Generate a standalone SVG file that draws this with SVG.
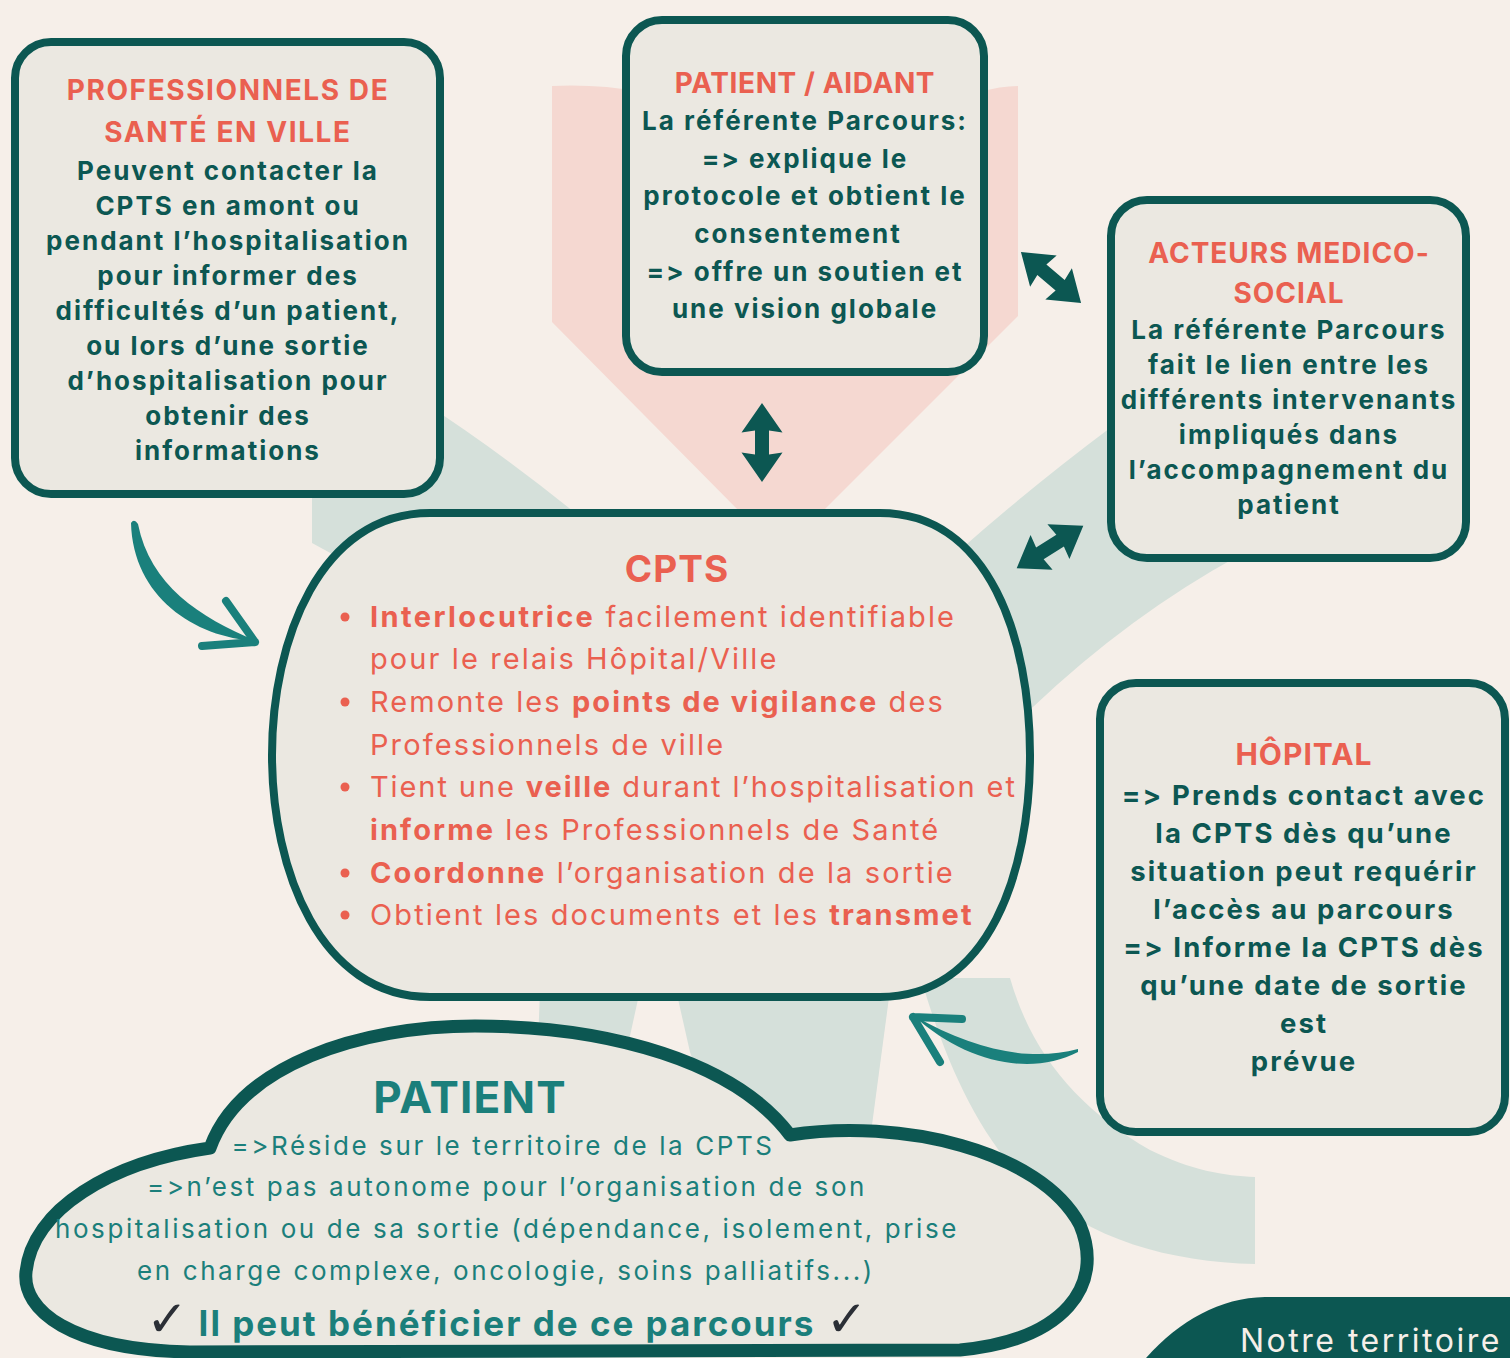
<svg xmlns="http://www.w3.org/2000/svg" width="1510" height="1358" viewBox="0 0 1510 1358">
<defs>
<style>
.box{fill:#ebe8e1;stroke:#0c5752;stroke-width:8}
.t{font-family:Inter,'Liberation Sans',sans-serif;text-anchor:middle}
.ttl{font-weight:700;font-size:28px;fill:#ea6050;letter-spacing:1px}
.bd{font-weight:700;font-size:26px;fill:#0c5752;letter-spacing:2px}
.cp{font-family:Inter,'Liberation Sans',sans-serif;font-size:29px;fill:#ea6050;letter-spacing:2.1px}
.cl{font-size:26px;fill:#1b7f7b;letter-spacing:2.6px}
.b{font-weight:700}
.ck{fill:#2b2f36;font-family:'DejaVu Sans',sans-serif;font-weight:700;font-size:50px;letter-spacing:0}
.bg2{fill:#d5e0da}
.dar{fill:#0c5752}
.car{fill:#1a807c}
.barb{stroke:#1a807c;stroke-width:8;stroke-linecap:round;fill:none}
</style>
<path id="dbl" d="M-39.5,0 L-10,-20.5 L-12,-7 L12,-7 L10,-20.5 L39.5,0 L10,20.5 L12,7 L-12,7 L-10,20.5 Z"/>
</defs>
<rect width="1510" height="1358" fill="#f6efe9"/>
<g id="background">
<path fill="#f5d8d1" d="M552,86 Q600,84 640,92 L980,92 Q1000,86 1018,86 L1018,316 L822,512 L740,512 L552,322 Z"/>
<path class="bg2" d="M312,380 L420,380 L420,400 Q505,455 590,525 L600,700 L312,543 Z"/>
<path class="bg2" d="M900,600 L960,550 Q1030,488 1110,428 L1200,370 L1240,555 Q1130,615 1033,707 L950,760 Z"/>
<path class="bg2" d="M540,990 L640,990 L628,1045 L538,1045 Z"/>
<path class="bg2" d="M676,990 L890,990 L870,1140 L720,1140 L690,1052 Z"/>
<path class="bg2" d="M918,978 L1010,978 C1032,1055 1080,1110 1150,1150 C1190,1170 1225,1176 1255,1177 L1255,1264 C1170,1262 1090,1240 1030,1185 C980,1140 945,1060 923,985 Z"/>
</g>
<g id="connectors">
<use href="#dbl" class="dar" transform="translate(762,442.5) rotate(90)"/>
<use href="#dbl" class="dar" transform="translate(1051,277.5) rotate(40.4)"/>
<use href="#dbl" class="dar" transform="translate(1050,547) rotate(-32.5)"/>
<path class="car" d="M131,523 Q134,518 138,524 C150,585 200,618 257,641 C195,638 133,597 131,523 Z"/>
<path class="barb" d="M255,642 L226,601 M255,642 L202,646"/>
<path class="car" d="M1078,1049 C1030,1062 975,1050 914,1016 C965,1062 1030,1077 1078,1052 Z"/>
<path class="barb" d="M913,1017 L962,1019 M913,1017 L940,1062"/>
</g>
<g id="node-professionnels">
<rect class="box" x="15" y="42" width="425" height="452" rx="36"/>
<text class="t ttl" x="228" y="100" style="letter-spacing:1.6px">PROFESSIONNELS DE</text>
<text class="t ttl" x="228" y="142" style="letter-spacing:1.6px">SANTÉ EN VILLE</text>
<text class="t bd" x="228" y="180">Peuvent contacter la</text>
<text class="t bd" x="228" y="215">CPTS en amont ou</text>
<text class="t bd" x="228" y="250">pendant l’hospitalisation</text>
<text class="t bd" x="228" y="285">pour informer des</text>
<text class="t bd" x="228" y="320">difficultés d’un patient,</text>
<text class="t bd" x="228" y="355">ou lors d’une sortie</text>
<text class="t bd" x="228" y="390">d’hospitalisation pour</text>
<text class="t bd" x="228" y="425">obtenir des</text>
<text class="t bd" x="228" y="460">informations</text>
</g>
<g id="node-patient-aidant">
<rect class="box" x="626" y="20" width="358" height="352" rx="36"/>
<text class="t ttl" x="805" y="93" style="letter-spacing:0.6px">PATIENT / AIDANT</text>
<text class="t bd" x="805" y="130">La référente Parcours:</text>
<text class="t bd" x="805" y="168">=&gt; explique le</text>
<text class="t bd" x="805" y="205">protocole et obtient le</text>
<text class="t bd" x="798" y="243">consentement</text>
<text class="t bd" x="805" y="281">=&gt; offre un soutien et</text>
<text class="t bd" x="805" y="318">une vision globale</text>
</g>
<g id="node-acteurs">
<rect class="box" x="1111" y="200" width="355" height="358" rx="36"/>
<text class="t ttl" x="1289" y="263">ACTEURS MEDICO-</text>
<text class="t ttl" x="1289" y="303">SOCIAL</text>
<text class="t bd" x="1289" y="339">La référente Parcours</text>
<text class="t bd" x="1289" y="374">fait le lien entre les</text>
<text class="t bd" x="1289" y="409">différents intervenants</text>
<text class="t bd" x="1289" y="444">impliqués dans</text>
<text class="t bd" x="1289" y="479">l’accompagnement du</text>
<text class="t bd" x="1289" y="514">patient</text>
</g>
<g id="node-hopital">
<rect class="box" x="1100" y="683" width="405" height="449" rx="36"/>
<text class="t ttl" x="1304" y="765" style="font-size:30px">HÔPITAL</text>
<g class="t bd" style="font-size:27.5px;letter-spacing:2.1px">
<text x="1304" y="805">=&gt; Prends contact avec</text>
<text x="1304" y="843">la CPTS dès qu’une</text>
<text x="1304" y="881">situation peut requérir</text>
<text x="1304" y="919">l’accès au parcours</text>
<text x="1304" y="957">=&gt; Informe la CPTS dès</text>
<text x="1304" y="995">qu’une date de sortie</text>
<text x="1304" y="1033">est</text>
<text x="1304" y="1071">prévue</text>
</g>
</g>
<g id="node-cpts">
<path class="box" d="M430,513 L880,513 C990,513 1030,640 1030,755 C1030,870 990,997 880,997 L430,997 C320,997 272,870 272,755 C272,640 320,513 430,513 Z"/>
<text class="t" x="677" y="582" style="font-weight:700;font-size:37px;fill:#ea6050;letter-spacing:1px">CPTS</text>
<g fill="#ea6050">
<circle cx="345" cy="617" r="4.5"/>
<circle cx="345" cy="702" r="4.5"/>
<circle cx="345" cy="787" r="4.5"/>
<circle cx="345" cy="873" r="4.5"/>
<circle cx="345" cy="915" r="4.5"/>
</g>
<text class="cp" x="370" y="627"><tspan class="b" style="letter-spacing:2.4px">Interlocutrice</tspan> facilement identifiable</text>
<text class="cp" x="370" y="669">pour le relais Hôpital/Ville</text>
<text class="cp" x="370" y="712">Remonte les <tspan class="b">points de vigilance</tspan> des</text>
<text class="cp" x="370" y="755">Professionnels de ville</text>
<text class="cp" x="370" y="797" style="letter-spacing:1.9px">Tient une <tspan class="b">veille</tspan> durant l’hospitalisation et</text>
<text class="cp" x="370" y="840"><tspan class="b">informe</tspan> les Professionnels de Santé</text>
<text class="cp" x="370" y="883"><tspan class="b">Coordonne</tspan> l’organisation de la sortie</text>
<text class="cp" x="370" y="925">Obtient les documents et les <tspan class="b">transmet</tspan></text>
</g>
<g id="node-patient">
<path d="M210,1148 C240,1065 360,1026 475,1026 C610,1026 735,1062 790,1135 C900,1118 1040,1150 1080,1225 C1105,1285 1065,1340 960,1350 L190,1352 C70,1350 22,1310 26,1272 C32,1210 110,1162 210,1148 Z" fill="#ebe8e1" stroke="#0c5752" stroke-width="13" stroke-linejoin="round"/>
<text class="t" x="470" y="1113" style="font-weight:700;font-size:44px;fill:#1b7f7b;letter-spacing:1.2px">PATIENT</text>
<text class="t cl" x="503" y="1155">=&gt;Réside sur le territoire de la CPTS</text>
<text class="t cl" x="507" y="1196">=&gt;n’est pas autonome pour l’organisation de son</text>
<text class="t cl" x="507" y="1238">hospitalisation ou de sa sortie (dépendance, isolement, prise</text>
<text class="t cl" x="506" y="1280">en charge complexe, oncologie, soins palliatifs...)</text>
<text class="t" x="507" y="1336" style="font-weight:700;font-size:35px;fill:#1b7f7b;letter-spacing:2px"><tspan class="ck">✓</tspan> Il peut bénéficier de ce parcours <tspan class="ck">✓</tspan></text>
</g>
<g id="node-territoire">
<path d="M1146,1358 C1180,1320 1220,1298 1265,1297 L1510,1297 L1510,1358 Z" fill="#0c5752"/>
<text x="1240" y="1352" style="font-family:Inter,'Liberation Sans',sans-serif;font-size:32px;fill:#f6efe9;letter-spacing:2.5px">Notre territoire</text>
</g>
</svg>
